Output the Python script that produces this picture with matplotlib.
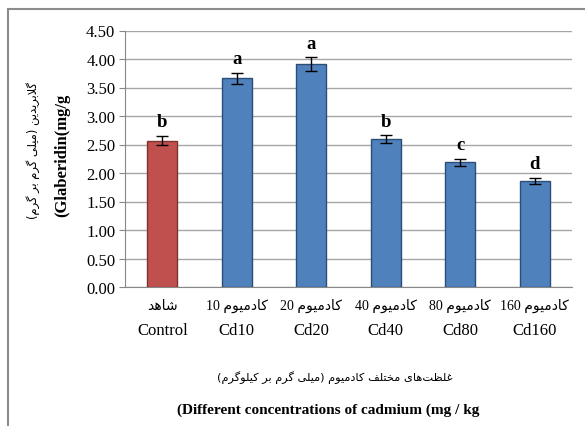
import matplotlib
matplotlib.use("Agg")
import matplotlib.pyplot as plt
from matplotlib.lines import Line2D
from matplotlib.transforms import blended_transform_factory

# data
cats_en = ["Control", "Cd10", "Cd20", "Cd40", "Cd80", "Cd160"]
cats_fa = ["شاهد", "کادمیوم 10", "کادمیوم 20", "کادمیوم 40", "کادمیوم 80", "کادمیوم 160"]
values = [2.57, 3.66, 3.91, 2.59, 2.19, 1.86]
errors = [0.08, 0.10, 0.12, 0.07, 0.06, 0.06]
letters = ["b", "a", "a", "b", "c", "d"]
yticks = [0.0, 0.5, 1.0, 1.5, 2.0, 2.5, 3.0, 3.5, 4.0, 4.5]

ylabel_fa = "گلابریدین (میلی گرم بر گرم)"
ylabel_en = "(Glaberidin(mg/g"
xlabel_fa = "غلظت\u200cهای مختلف کادمیوم (میلی گرم بر کیلوگرم)"
xlabel_en = "(Different concentrations of cadmium (mg / kg"

# minimal Persian shaping (matplotlib has no complex text layout)
FORMS = {
    "ا": ("\uFE8D", "\uFE8E", None, None),
    "ب": ("\uFE8F", "\uFE90", "\uFE91", "\uFE92"),
    "ت": ("\uFE95", "\uFE96", "\uFE97", "\uFE98"),
    "خ": ("\uFEA5", "\uFEA6", "\uFEA7", "\uFEA8"),
    "د": ("\uFEA9", "\uFEAA", None, None),
    "ر": ("\uFEAD", "\uFEAE", None, None),
    "ش": ("\uFEB5", "\uFEB6", "\uFEB7", "\uFEB8"),
    "ظ": ("\uFEC5", "\uFEC6", "\uFEC7", "\uFEC8"),
    "غ": ("\uFECD", "\uFECE", "\uFECF", "\uFED0"),
    "ف": ("\uFED1", "\uFED2", "\uFED3", "\uFED4"),
    "ل": ("\uFEDD", "\uFEDE", "\uFEDF", "\uFEE0"),
    "م": ("\uFEE1", "\uFEE2", "\uFEE3", "\uFEE4"),
    "ن": ("\uFEE5", "\uFEE6", "\uFEE7", "\uFEE8"),
    "ه": ("\uFEE9", "\uFEEA", "\uFEEB", "\uFEEC"),
    "و": ("\uFEED", "\uFEEE", None, None),
    "ی": ("\uFBFC", "\uFBFD", "\uFBFE", "\uFBFF"),
    "ک": ("\uFB8E", "\uFB8F", "\uFB90", "\uFB91"),
    "گ": ("\uFB92", "\uFB93", "\uFB94", "\uFB95"),
}


def dual(c):
    return c in FORMS and FORMS[c][2] is not None


def shape(word):
    out = []
    i = 0
    n = len(word)
    while i < n:
        c = word[i]
        if c not in FORMS:
            if c != "\u200c":
                out.append(c)
            i += 1
            continue
        con_prev = i > 0 and dual(word[i - 1])
        if c == "ل" and i + 1 < n and word[i + 1] == "ا":
            out.append("\uFEFC" if con_prev else "\uFEFB")
            i += 2
            continue
        con_next = dual(c) and i + 1 < n and word[i + 1] in FORMS
        iso, fin, ini, med = FORMS[c]
        if con_prev and con_next:
            out.append(med)
        elif con_prev:
            out.append(fin)
        elif con_next:
            out.append(ini)
        else:
            out.append(iso)
        i += 1
    return "".join(out)


def fa(s):
    mirror = {"(": ")", ")": "("}
    words = []
    for w in reversed(s.split(" ")):
        if any(ch in FORMS for ch in w):
            w = "".join(mirror.get(ch, ch) for ch in reversed(shape(w)))
        words.append(w)
    return " ".join(words)


SERIF = ["Liberation Serif", "DejaVu Sans"]
FAFONT = ["DejaVu Sans"]

W, H = 585, 427
fig = plt.figure(figsize=(W / 100, H / 100), dpi=100)
ax = fig.add_axes([125 / W, (H - 288) / H, 447 / W, (288 - 31.5) / H])

x = list(range(len(cats_en)))
colors = ["#C0504D"] + ["#4F81BD"] * (len(cats_en) - 1)
edges = ["#7F3330"] + ["#2C4D75"] * (len(cats_en) - 1)
ax.bar(x, values, width=0.4, color=colors, edgecolor=edges, linewidth=1, zorder=3)
ax.errorbar(x, values, yerr=errors, fmt="none", ecolor="black", elinewidth=1,
            capsize=4, capthick=1, zorder=4)
for xi, v, e, l in zip(x, values, errors, letters):
    ax.text(xi, v + e + 0.1, l, ha="center", va="bottom", fontsize=13.5,
            fontweight="bold", family=SERIF)

ax.set_xlim(-0.5, len(cats_en) - 0.5)
ax.set_ylim(0, 4.5)
ax.set_yticks(yticks)
ax.set_yticklabels([f"{t:.2f}" for t in yticks], family=SERIF, fontsize=12)
ax.set_xticks([])
ax.grid(axis="y", color="#A6A6A6", linewidth=1, zorder=0)
ax.tick_params(axis="y", length=4, color="#888888", pad=3)
for s in ["top", "right"]:
    ax.spines[s].set_visible(False)
for s in ["left", "bottom"]:
    ax.spines[s].set_color("#888888")

tr = blended_transform_factory(ax.transData, fig.transFigure)
for xi, cf, ce in zip(x, cats_fa, cats_en):
    ax.text(xi, (H - 306) / H, fa(cf), transform=tr, ha="center", va="center",
            fontsize=10, family=SERIF)
    ax.text(xi, (H - 331) / H, ce, transform=tr, ha="center", va="center",
            fontsize=12, family=SERIF)

fig.text(335 / W, (H - 378) / H, fa(xlabel_fa), ha="center", va="center",
         fontsize=8.2, family=FAFONT)
fig.text(328 / W, (H - 410) / H, xlabel_en, ha="center", va="center",
         fontsize=11, fontweight="bold", family=SERIF)
fig.text(33 / W, (H - 151) / H, fa(ylabel_fa), rotation=90, ha="center",
         va="center", fontsize=8.3, family=FAFONT)
fig.text(62 / W, (H - 155) / H, ylabel_en, rotation=90, ha="center",
         va="center", fontsize=12, fontweight="bold", family=SERIF)

# outer chart border (only top and left edges are visible in the crop)
fig.add_artist(Line2D([8 / W, 1], [(H - 10) / H] * 2, transform=fig.transFigure,
                      color="#8C8C8C", linewidth=1.5))
fig.add_artist(Line2D([8 / W] * 2, [0, (H - 10) / H], transform=fig.transFigure,
                      color="#8C8C8C", linewidth=1.5))

fig.savefig("out.png", dpi=100)
